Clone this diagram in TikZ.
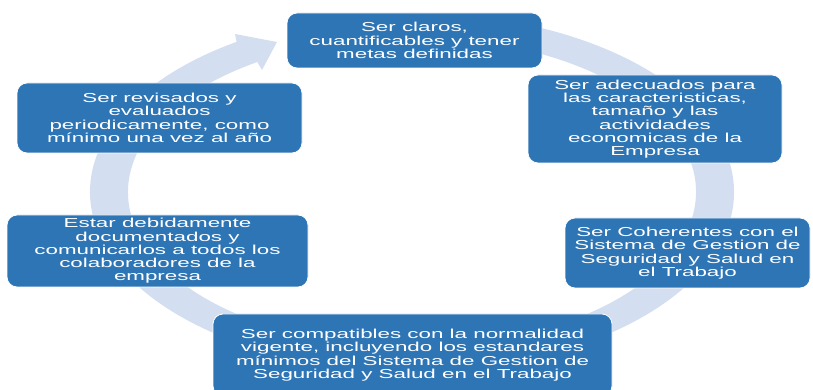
\documentclass[tikz,border=0pt]{standalone}
\usepackage{fontspec}
\setmainfont{Liberation Sans}[FakeStretch=1.72]
\usetikzlibrary{calc}
\definecolor{boxblue}{HTML}{2E75B6}
\definecolor{ringblue}{HTML}{D3DEF1}
\tikzset{
  cyclebox/.style={draw=white, line width=0.8pt, fill=boxblue, rounded corners=10pt,
    text=white, align=center, inner sep=0pt,
    font=\fontsize{13}{13.3}\selectfont}
}
\begin{document}
\begin{tikzpicture}[x=1pt,y=1pt]
\useasboundingbox (0,0) rectangle (813,390);
\clip (0,0) rectangle (813,390);
\coordinate (c) at (412,198);
\coordinate (ob) at (235,356);
\coordinate (tip) at (277,348);
\coordinate (ib) at (262,320);
\fill[ringblue] ($(c)+(100:322pt and 179pt)$)
  arc[start angle=100, end angle=-237, x radius=322pt, y radius=179pt]
  -- (ob) -- (tip) -- (ib)
  -- ($(c)+(-237:284pt and 155pt)$)
  arc[start angle=-237, end angle=100, x radius=284pt, y radius=155pt] -- cycle;
\node[cyclebox, minimum width=255pt, minimum height=55pt] (top) at (414.5,349.5)
  {Ser claros,\\cuantificables y tener\\metas definidas};
\node[cyclebox, minimum width=254pt, minimum height=88pt] (r1) at (655,271)
  {Ser adecuados para\\las caracteristicas,\\tamaño y las\\actividades\\economicas de la\\Empresa};
\node[cyclebox, minimum width=245pt, minimum height=70pt] (r2) at (687.5,137)
  {Ser Coherentes con el\\Sistema de Gestion de\\Seguridad y Salud en\\el Trabajo};
\node[cyclebox, minimum width=399pt, minimum height=82pt] (bot) at (412.5,35)
  {Ser compatibles con la normalidad\\vigente, incluyendo los estandares\\mínimos del Sistema de Gestion de\\Seguridad y Salud en el Trabajo};
\node[cyclebox, minimum width=301pt, minimum height=72pt] (l2) at (157.5,139)
  {Estar debidamente\\documentados y\\comunicarlos a todos los\\colaboradores de la\\empresa};
\node[cyclebox, minimum width=285pt, minimum height=70pt] (l1) at (159.5,272)
  {Ser revisados y\\evaluados\\periodicamente, como\\mínimo una vez al año};
\end{tikzpicture}
\end{document}
